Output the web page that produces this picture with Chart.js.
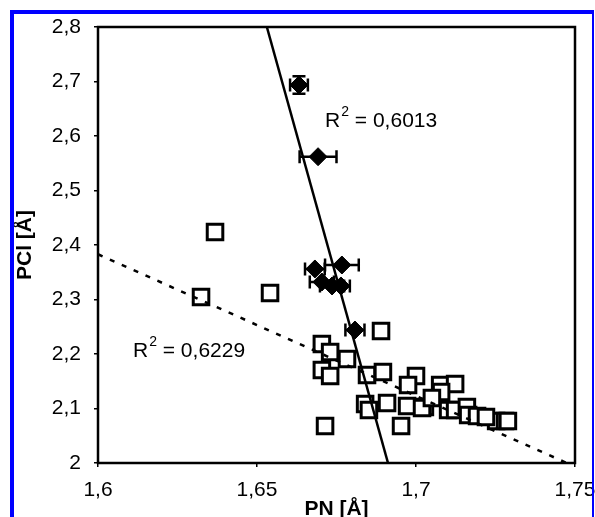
<!DOCTYPE html>
<html><head><meta charset="utf-8">
<script src="https://cdn.jsdelivr.net/npm/chart.js@4"></script>
<style>
html,body{margin:0;padding:0;background:#fff;overflow:hidden}
#wrap{position:relative;width:595px;height:517px;overflow:hidden;background:#fff}
#frame{position:absolute;left:10px;top:10px;width:584px;height:640px;box-sizing:border-box;border-left:4px solid #0000ff;border-top:4px solid #0000ff;border-right:2px solid #0000ff;pointer-events:none}
canvas{display:block}
</style></head>
<body>
<div id="wrap"><canvas id="c" width="595" height="517"></canvas><div id="frame"></div></div>
<script>
// Open squares (PN, PCl)
const squaresX = [1.6368,1.6324,1.6541,1.6890,1.6714,1.6704,1.6730,1.6704,1.6730,1.6783,1.6846,1.6896,1.6840,1.6852,1.6909,1.6953,1.7000,1.6975,1.6972,1.7028,1.7076,1.7123,1.7079,1.7019,1.7101,1.7123,1.7160,1.7164,1.7192,1.7252,1.7280,1.7289,1.7050,1.7220];
const squaresY = [2.4239,2.3046,2.3119,2.2422,2.0679,2.2183,2.2037,2.1706,2.1596,2.1908,2.1615,2.1670,2.1083,2.0972,2.1101,2.0679,2.1596,2.1431,2.1046,2.1028,2.1431,2.1450,2.1303,2.1009,2.0972,2.0972,2.1028,2.0881,2.0862,2.0771,2.0771,2.0771,2.1193,2.0844];
// Filled diamonds with error bars
const diamondsX = [1.6632,1.6692,1.6767,1.6682,1.6704,1.6736,1.6764,1.6808];
const diamondsY = [2.6936,2.5620,2.3633,2.3560,2.3321,2.3248,2.3248,2.2440];
const diamondsXErr = [0.0028,0.0058,0.0053,0.0031,0.0038,0.0038,0.0028,0.0030];
const diamondsYErr = [0.016,0,0,0,0,0,0,0];
// Trend lines
const fitSolidX = [1.6531,1.6912];
const fitSolidY = [2.8,2.0];
const fitDottedX = [1.6,1.7474];
const fitDottedY = [2.383,2.0];
// R² labels
const r2Values = ['0,6013','0,6229'];
const r2X = [1.6714,1.6110];
const r2Y = [2.6165,2.1945];
// Ticks
const xTickValues = [1.6,1.65,1.7,1.75];
const xTickLabels = ['1,6','1,65','1,7','1,75'];
const yTickValues = [2,2.1,2.2,2.3,2.4,2.5,2.6,2.7,2.8];
const yTickLabels = ['2','2,1','2,2','2,3','2,4','2,5','2,6','2,7','2,8'];

const FONT = 'Liberation Sans, Arial, sans-serif';

const extras = {
  id:'extras',
  beforeDatasetDraw(chart,args){
    if(chart.data.datasets[args.index].label!=='diamonds') return;
    const ctx=chart.ctx, xs=chart.scales.x, ys=chart.scales.y;
    ctx.save();
    ctx.strokeStyle='#000'; ctx.lineWidth=2.5;
    const cap=6.5;
    diamondsX.forEach((x,i)=>{
      const px=xs.getPixelForValue(x), py=ys.getPixelForValue(diamondsY[i]);
      const l=xs.getPixelForValue(x-diamondsXErr[i]), r=xs.getPixelForValue(x+diamondsXErr[i]);
      ctx.beginPath();
      ctx.moveTo(l,py); ctx.lineTo(r,py);
      ctx.moveTo(l,py-cap); ctx.lineTo(l,py+cap);
      ctx.moveTo(r,py-cap); ctx.lineTo(r,py+cap);
      if(diamondsYErr[i]>0){
        const t=ys.getPixelForValue(diamondsY[i]+diamondsYErr[i]), b=ys.getPixelForValue(diamondsY[i]-diamondsYErr[i]);
        ctx.moveTo(px,t); ctx.lineTo(px,b);
        ctx.moveTo(px-cap,t); ctx.lineTo(px+cap,t);
        ctx.moveTo(px-cap,b); ctx.lineTo(px+cap,b);
      }
      ctx.stroke();
    });
    ctx.restore();
  },
  afterDatasetsDraw(chart){
    const ctx=chart.ctx, a=chart.chartArea, xs=chart.scales.x, ys=chart.scales.y;
    ctx.save();
    ctx.strokeStyle='#000'; ctx.lineWidth=2.5;
    ctx.strokeRect(a.left,a.top,a.right-a.left,a.bottom-a.top);
    ctx.fillStyle='#000'; ctx.textBaseline='alphabetic'; ctx.textAlign='left';
    r2Values.forEach((v,i)=>{
      let x=xs.getPixelForValue(r2X[i]); const y=ys.getPixelForValue(r2Y[i]);
      ctx.font='21px '+FONT;
      ctx.fillText('R',x,y); x+=ctx.measureText('R').width+1;
      ctx.font='14px '+FONT;
      ctx.fillText('2',x,y-11); x+=ctx.measureText('2').width;
      ctx.font='21px '+FONT;
      ctx.fillText(' = '+v,x,y);
    });
    ctx.restore();
  }
};

new Chart(document.getElementById('c'),{
  type:'scatter',
  data:{datasets:[
    {label:'fitSolid',data:fitSolidX.map((x,i)=>({x,y:fitSolidY[i]})),showLine:true,borderColor:'#000',borderWidth:2.5,pointRadius:0,order:0},
    {label:'fitDotted',data:fitDottedX.map((x,i)=>({x,y:fitDottedY[i]})),showLine:true,borderColor:'#000',borderWidth:2.5,borderDash:[5,8],pointRadius:0,order:0},
    {label:'diamonds',data:diamondsX.map((x,i)=>({x,y:diamondsY[i]})),pointStyle:'rectRot',pointRadius:9,backgroundColor:'#000',borderColor:'#000',borderWidth:1,order:1},
    {label:'squares',data:squaresX.map((x,i)=>({x,y:squaresY[i]})),pointStyle:'rect',pointRadius:11,backgroundColor:'#fff',borderColor:'#000',borderWidth:3,order:2}
  ]},
  options:{
    responsive:false,animation:false,
    layout:{padding:{left:0,top:27,right:20,bottom:0}},
    plugins:{legend:{display:false},tooltip:{enabled:false}},
    scales:{
      x:{type:'linear',min:1.6,max:1.75,
        afterBuildTicks:s=>{s.ticks=xTickValues.map(v=>({value:v}));},
        afterFit:s=>{s.height=54;s.paddingLeft=0;s.paddingRight=0;},
        ticks:{callback:(v,i)=>xTickLabels[i],color:'#000',font:{family:FONT,size:21},padding:11,maxRotation:0,autoSkip:false},
        grid:{display:true,drawOnChartArea:false,drawTicks:true,tickLength:4,color:'#000',lineWidth:1.5},
        border:{display:false},
        title:{display:true,text:'PN [Å]',color:'#000',font:{family:FONT,size:21,weight:'bold'},padding:{top:0,bottom:-5}}
      },
      y:{type:'linear',min:2,max:2.8,
        afterBuildTicks:s=>{s.ticks=yTickValues.map(v=>({value:v}));},
        afterFit:s=>{s.width=98;s.paddingTop=0;s.paddingBottom=0;},
        ticks:{callback:(v,i)=>yTickLabels[i],color:'#000',font:{family:FONT,size:21},padding:13,autoSkip:false},
        grid:{display:true,drawOnChartArea:false,drawTicks:true,tickLength:4,color:'#000',lineWidth:1.5},
        border:{display:false},
        title:{display:true,text:'PCl [Å]',color:'#000',font:{family:FONT,size:21,weight:'bold'},padding:{top:13,bottom:0}}
      }
    }
  },
  plugins:[extras]
});
</script>
</body></html>
